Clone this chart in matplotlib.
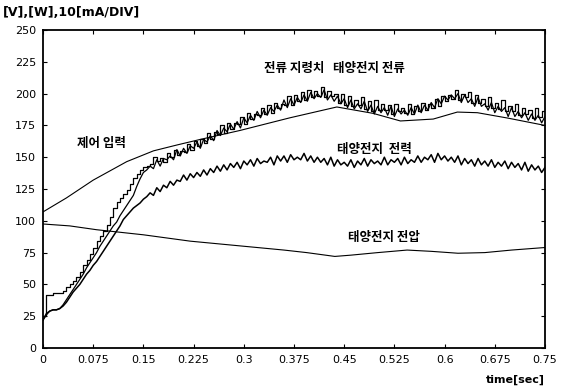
import numpy as np
import matplotlib
matplotlib.use("Agg")
import matplotlib.pyplot as plt

plt.rcParams['font.family'] = ['Noto Sans CJK KR', 'DejaVu Sans']

# ---------------- data ----------------
t_noisy = np.round(np.arange(0, 0.7501, 0.005), 3)

current_ref = [
    25, 42, 42, 43, 43, 43, 45, 48, 50, 53, 56, 60, 65, 69, 74, 79, 84, 88, 92, 97,
    103, 110, 115, 118, 121, 124, 129, 134, 137, 140, 142, 143,
    145, 150, 147, 149, 146, 153, 150, 156, 152, 155,
    154, 160, 156, 163, 159, 164, 161, 169, 164, 170,
    168, 175, 169, 177, 172, 177, 176, 182, 176, 185,
    180, 184, 183, 189, 184, 191, 185, 193, 189, 192,
    191, 198, 191, 199, 194, 201, 195, 203, 197, 202,
    198, 205, 197, 202, 198, 200, 193, 200, 191, 198,
    190, 195, 191, 197, 188, 194, 186, 195, 187, 192,
    187, 191, 184, 192, 186, 189, 185, 192, 184, 190,
    186, 193, 187, 192, 189, 196, 190, 198, 194, 199,
    196, 203, 195, 200, 197, 201, 193, 199, 193, 196,
    190, 197, 189, 193, 188, 195, 186, 190, 186, 192,
    183, 189, 184, 187, 181, 189, 182, 186, 180]

solar_current = [
    22, 26, 29, 30, 30, 31, 34, 38, 42, 46, 50, 54, 58, 63, 67, 71, 75, 80, 84, 88,
    92, 96, 99, 104, 108, 112, 116, 120, 127, 133, 138, 140,
    143, 141, 148, 143, 149, 148, 151, 148, 156, 151,
    157, 153, 159, 157, 162, 157, 164, 162, 167, 163,
    171, 167, 173, 170, 176, 172, 178, 173, 181, 177,
    183, 179, 186, 181, 187, 183, 189, 186, 191, 187,
    195, 189, 196, 191, 197, 193, 199, 194, 201, 196,
    200, 197, 203, 195, 199, 194, 198, 192, 196, 189,
    195, 188, 192, 188, 194, 186, 191, 184, 190, 185,
    189, 183, 190, 182, 188, 184, 187, 183, 189, 184,
    191, 185, 191, 187, 193, 189, 196, 192, 198, 195,
    199, 196, 200, 193, 199, 193, 196, 190, 197, 190,
    192, 187, 193, 185, 190, 186, 189, 182, 189, 182,
    186, 181, 185, 179, 184, 179, 183, 177, 182]

solar_power = [
    22, 27, 29, 30, 30, 31, 33, 36, 40, 44, 47, 50, 54, 58, 61, 65, 68, 72, 76, 80,
    84, 88, 92, 96, 101, 104, 107, 110, 112, 114, 117, 119,
    122, 120, 126, 123, 128, 126, 131, 128, 132, 131,
    136, 132, 137, 134, 138, 135, 140, 136, 141, 138,
    143, 139, 144, 140, 145, 142, 146, 141, 147, 144,
    148, 143, 149, 145, 147, 146, 150, 144, 151, 147,
    151, 146, 152, 148, 150, 148, 153, 147, 151, 146,
    150, 146, 149, 144, 150, 143, 148, 144, 146, 143,
    148, 142, 147, 144, 149, 143, 148, 145, 147, 144,
    150, 144, 148, 146, 149, 144, 150, 145, 148, 146,
    151, 146, 150, 148, 152, 146, 153, 148, 151, 147,
    150, 146, 151, 144, 149, 145, 148, 143, 149, 144,
    147, 143, 148, 142, 146, 143, 147, 141, 146, 142,
    145, 140, 146, 139, 144, 140, 143, 138, 142]

t_control = [0, 0.035, 0.075, 0.125, 0.165, 0.2, 0.235, 0.294, 0.369, 0.439,
             0.493, 0.534, 0.583, 0.619, 0.649, 0.694, 0.75]
control_input = [107, 118, 132, 146.5, 155, 159.6, 164, 171, 181, 189.5,
                 184.5, 178.5, 180, 185.5, 185, 180.8, 175]

t_voltage = [0, 0.04, 0.08, 0.15, 0.22, 0.3, 0.36, 0.394, 0.436, 0.46, 0.5,
             0.544, 0.58, 0.62, 0.66, 0.7, 0.75]
solar_voltage = [97.5, 96, 93, 89, 84, 80, 77, 75, 72, 73, 75,
                 77, 76, 74.5, 75, 77, 79]

x_ticks = [0, 0.075, 0.15, 0.225, 0.3, 0.375, 0.45, 0.525, 0.6, 0.675, 0.75]
x_labels = ['0', '0.075', '0.15', '0.225', '0.3', '0.375', '0.45', '0.525', '0.6', '0.675', '0.75']
y_ticks = [0, 25, 50, 75, 100, 125, 150, 175, 200, 225, 250]

# ---------------- figure ----------------
fig = plt.figure(figsize=(5.63, 3.90), dpi=100)
ax = fig.add_axes([0.0764, 0.1077, 0.8916, 0.8153])

ax.plot(t_noisy, current_ref, color='black', lw=0.9, drawstyle='steps-post')
ax.plot(t_noisy, solar_current, color='black', lw=0.9)
ax.plot(t_noisy, solar_power, color='black', lw=1.1)
ax.plot(t_control, control_input, color='black', lw=0.8)
ax.plot(t_voltage, solar_voltage, color='black', lw=0.8)

ax.set_xlim(0, 0.75)
ax.set_ylim(0, 250)
ax.set_xticks(x_ticks)
ax.set_xticklabels(x_labels)
ax.set_yticks(y_ticks)
ax.tick_params(direction='in', top=True, right=True, length=3, width=0.8,
               labelsize=8, pad=5)
for lab in ax.get_xticklabels() + ax.get_yticklabels():
    lab.set_fontfamily('DejaVu Sans')
for sp in ax.spines.values():
    sp.set_linewidth(1.3)

kw = dict(fontsize=9, fontweight='bold', ha='center', va='center')
ax.text(0.436, 220, '전류 지령치   태양전지 전류', **kw)
ax.text(0.087, 161, '제어 입력', **kw)
ax.text(0.495, 156, '태양전지  전력', **kw)
ax.text(0.51, 86.5, '태양전지 전압', **kw)

fig.text(3 / 563, 1 - 12 / 390, '[V],[W],10[mA/DIV]', fontsize=9, fontweight='bold',
         ha='left', va='center', family='DejaVu Sans')
fig.text(545 / 563, 1 - 380 / 390, 'time[sec]', fontsize=8, fontweight='bold',
         ha='right', va='center', family='DejaVu Sans')

fig.savefig('out.png', dpi=100)
